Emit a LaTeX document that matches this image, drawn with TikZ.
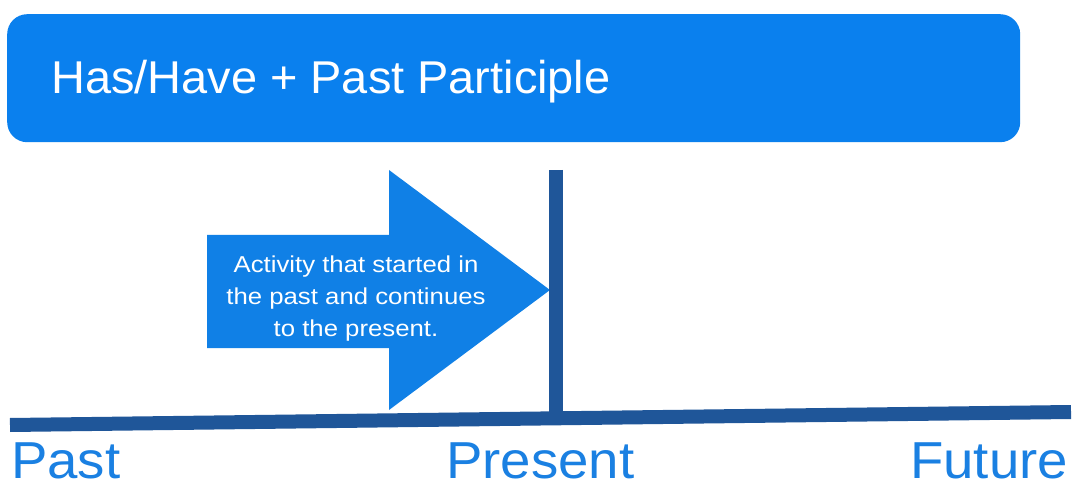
\documentclass[tikz,border=0pt]{standalone}
\usepackage{fontspec}
\setmainfont{Liberation Sans}
\definecolor{hdrblue}{HTML}{0A80EE}
\definecolor{arrblue}{HTML}{1080E6}
\definecolor{lineblue}{HTML}{1F5699}
\definecolor{lblblue}{HTML}{1A80E2}
\begin{document}
\begin{tikzpicture}[x=1pt,y=-1pt,
  header/.style={fill=hdrblue,rounded corners=20pt,draw=none},
  timeline/.style={draw=lineblue,line width=14pt},
  lbl/.style={text=lblblue,font=\fontsize{52}{58}\selectfont,inner sep=0pt,anchor=base west,xscale=1.05},
  arrtext/.style={text=white,font=\fontsize{23}{32}\selectfont,align=center,inner sep=0pt,xscale=1.12}]
\useasboundingbox (0,0) rectangle (1074,489);
\fill[white] (0,0) rectangle (1074,489);
% header
\node[header,minimum width=1013pt,minimum height=128pt,anchor=north west] (hdr) at (7,14) {};
\node[text=white,font=\fontsize{46}{50}\selectfont,anchor=base west,inner sep=0pt,xscale=1.02] (hdrtext) at (51,94) {Has/Have + Past Participle};
% arrow
\fill[arrblue] (207,235) -- (389,235) -- (389,170) -- (550,290) -- (389,410) -- (389,348) -- (207,348) -- cycle;
\node[arrtext] (arrlbl) at (356,299) {Activity that started in\\the past and continues\\to the present.};
% timeline
\coordinate (tl) at (10,425);
\coordinate (tr) at (1071,412);
\coordinate (vt) at (556,170);
\coordinate (vb) at (556,418);
\draw[timeline] (vt) -- (vb);
\draw[timeline] (tl) -- (tr);
% labels
\node[lbl] (past) at (11,478) {Past};
\node[lbl] (present) at (446,478) {Present};
\node[lbl] (future) at (910,478) {Future};
\end{tikzpicture}
\end{document}
